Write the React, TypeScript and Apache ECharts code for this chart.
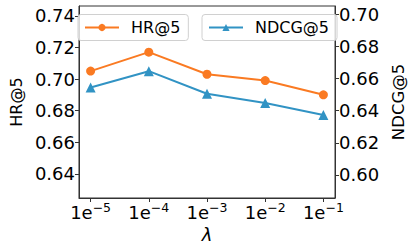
import React, { useEffect, useRef } from "react";
import * as echarts from "echarts";

const lambdaExp = [-5, -4, -3, -2, -1];
const hrValues = [0.705, 0.717, 0.703, 0.699, 0.69];
const ndcgValues = [0.6544, 0.6645, 0.6505, 0.6447, 0.6373];
const leftTicks = [0.64, 0.66, 0.68, 0.7, 0.72, 0.74];
const rightTicks = [0.6, 0.62, 0.64, 0.66, 0.68, 0.7];

const FONT = "DejaVu Sans";
const ORANGE = "#fa7a22";
const BLUE = "#3193c4";

export default function App() {
  const ref = useRef<HTMLDivElement>(null);
  useEffect(() => {
    document.body.style.margin = "0";
    const chart = echarts.init(ref.current!, null, { renderer: "svg" });
    const legendCommon = {
      top: 14.5,
      orient: "horizontal" as const,
      padding: [5, 8, 5, 6],
      itemWidth: 34,
      itemHeight: 9,
      backgroundColor: "rgba(255,255,255,0.8)",
      borderColor: "#d0d0d0",
      borderWidth: 1,
      borderRadius: 3,
      formatter: (name: string) => `{t|${name}}`,
      textStyle: {
        fontFamily: FONT,
        fontSize: 16,
        color: "#000",
        rich: { t: { fontFamily: FONT, fontSize: 16, color: "#000", lineHeight: 18, padding: [0, 0, 0, 7] } },
      },
    };
    chart.setOption({
      animation: false,
      grid: { left: 71, right: 72, top: 6, bottom: 51, show: true, borderColor: "#333", borderWidth: 1 },
      legend: [
        { ...legendCommon, left: 78, data: ["HR@5"] },
        { ...legendCommon, left: 202, data: ["NDCG@5"] },
      ],
      xAxis: {
        type: "value",
        min: -5.2,
        max: -0.8,
        name: "λ",
        nameLocation: "middle",
        nameGap: 18,
        nameTextStyle: { fontFamily: FONT, fontSize: 18, fontStyle: "italic", color: "#000" },
        axisLine: { show: true, lineStyle: { color: "#333" } },
        axisTick: { show: true, length: 4, customValues: lambdaExp, lineStyle: { color: "#333" } },
        splitLine: { show: false },
        axisLabel: {
          customValues: lambdaExp,
          margin: 3,
          formatter: (v: number) => `{b|1e}{s|−${Math.round(-v)}}`,
          rich: {
            b: { fontFamily: FONT, fontSize: 18, color: "#000", lineHeight: 20, verticalAlign: "bottom" },
            s: { fontFamily: FONT, fontSize: 12.5, color: "#000", lineHeight: 9, verticalAlign: "top" },
          },
        },
      },
      yAxis: [
        {
          type: "value",
          position: "left",
          min: 0.6247,
          max: 0.7462,
          name: "HR@5",
          nameLocation: "middle",
          nameGap: 54,
          nameTextStyle: { fontFamily: FONT, fontSize: 16, color: "#000" },
          axisLine: { show: true, lineStyle: { color: "#333" } },
          axisTick: { show: true, length: 4, customValues: leftTicks, lineStyle: { color: "#333" } },
          splitLine: { show: false },
          axisLabel: {
            customValues: leftTicks,
            margin: 4,
            fontFamily: FONT,
            fontSize: 18,
            color: "#000",
            formatter: (v: number) => v.toFixed(2),
          },
        },
        {
          type: "value",
          position: "right",
          min: 0.5857,
          max: 0.705,
          name: "NDCG@5",
          nameLocation: "middle",
          nameGap: 52,
          nameTextStyle: { fontFamily: FONT, fontSize: 16.5, color: "#000" },
          axisLine: { show: true, lineStyle: { color: "#333" } },
          axisTick: { show: true, length: 4, customValues: rightTicks, lineStyle: { color: "#333" } },
          splitLine: { show: false },
          axisLabel: {
            customValues: rightTicks,
            margin: 4,
            fontFamily: FONT,
            fontSize: 18,
            color: "#000",
            formatter: (v: number) => v.toFixed(2),
          },
        },
      ],
      series: [
        {
          name: "HR@5",
          type: "line",
          yAxisIndex: 0,
          data: lambdaExp.map((e, i) => [e, hrValues[i]]),
          symbol: "circle",
          symbolSize: 9,
          lineStyle: { color: ORANGE, width: 2 },
          itemStyle: { color: ORANGE },
        },
        {
          name: "NDCG@5",
          type: "line",
          yAxisIndex: 1,
          data: lambdaExp.map((e, i) => [e, ndcgValues[i]]),
          symbol: "triangle",
          symbolSize: 10,
          lineStyle: { color: BLUE, width: 2 },
          itemStyle: { color: BLUE },
        },
      ],
    });
    return () => chart.dispose();
  }, []);
  return <div ref={ref} style={{ position: "absolute", left: 0, top: 0, width: 415, height: 249 }} />;
}
